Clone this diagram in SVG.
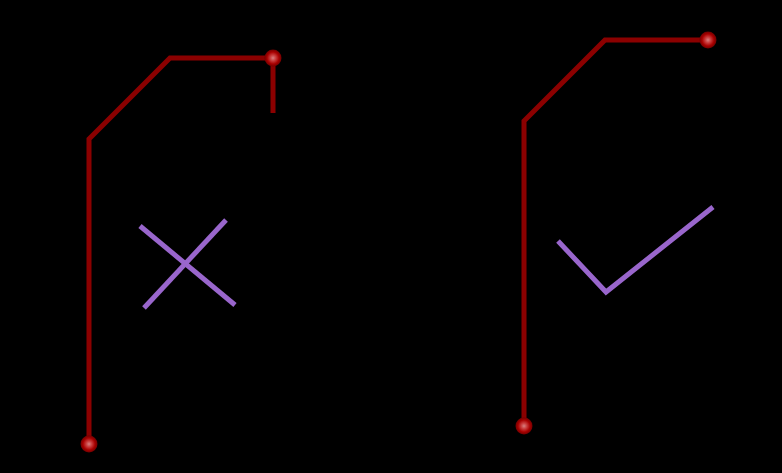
<svg xmlns="http://www.w3.org/2000/svg" width="782" height="473" viewBox="0 0 782 473">
<defs>
<style>
.wire{fill:none;stroke:#8b0000;stroke-width:5;stroke-linejoin:miter;}
.mark{fill:none;stroke:#9966cc;stroke-width:5;stroke-linecap:butt;}
</style>
<radialGradient id="pad">
<stop offset="0" stop-color="#d88080"/>
<stop offset="0.35" stop-color="#c83a3a"/>
<stop offset="0.7" stop-color="#a80000"/>
<stop offset="1" stop-color="#700000"/>
</radialGradient>
<g id="dot"><circle r="8.5" fill="url(#pad)"/></g>
</defs>
<rect width="782" height="473" fill="#000"/>
<g id="connectors">
<polyline class="wire" points="89,444 89,139 170,58 273,58 273,113"/>
<polyline class="wire" points="524,426 524,121 605,40 708,40"/>
</g>
<g id="pads">
<use href="#dot" x="89" y="444"/>
<use href="#dot" x="273" y="58"/>
<use href="#dot" x="524" y="426"/>
<use href="#dot" x="708" y="40"/>
</g>
<g id="cross">
<line class="mark" x1="140" y1="226" x2="235" y2="305"/>
<line class="mark" x1="144" y1="308" x2="226" y2="220"/>
</g>
<g id="check">
<polyline class="mark" points="558,241 606,292 713,207"/>
</g>
</svg>
